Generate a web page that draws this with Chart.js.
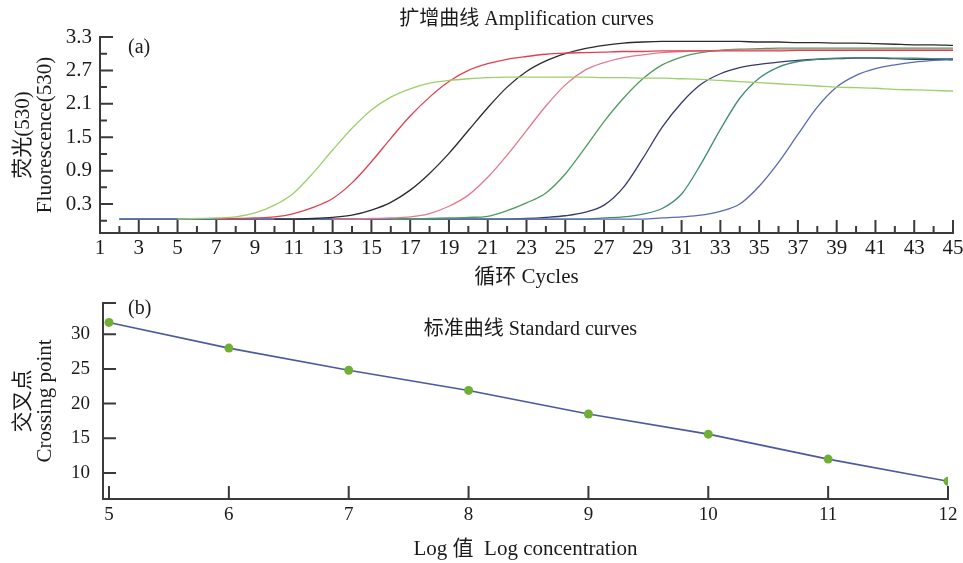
<!DOCTYPE html>
<html>
<head>
<meta charset="utf-8">
<title>Amplification and standard curves</title>
<script src="https://cdn.jsdelivr.net/npm/chart.js@4.4.1/dist/chart.umd.min.js"></script>
<style>
  html, body { margin: 0; padding: 0; background: #ffffff; }
  #panelA { position: absolute; left: 0; top: 0; width: 963px; height: 290px; }
  #panelB { position: absolute; left: 0; top: 290px; width: 963px; height: 273px; }
</style>
</head>
<body>
<div id="panelA"><canvas id="ampChart"></canvas></div>
<div id="panelB"><canvas id="stdChart"></canvas></div>
<script>
// ---- panel (a): amplification curves, one value per cycle ----
const cycles = [2, 3, 4, 5, 6, 7, 8, 9, 10, 11, 12, 13, 14, 15, 16, 17, 18, 19, 20, 21, 22, 23,
  24, 25, 26, 27, 28, 29, 30, 31, 32, 33, 34, 35, 36, 37, 38, 39, 40, 41, 42, 43, 44, 45];

const curveLightGreen = [null, null, null, 0.03, 0.04, 0.05, 0.07, 0.14, 0.28, 0.5, 0.86, 1.27,
  1.66, 1.99, 2.22, 2.37, 2.47, 2.52, 2.55, 2.57, 2.58, 2.58, 2.58, 2.58, 2.58, 2.57, 2.57, 2.56,
  2.56, 2.55, 2.54, 2.52, 2.5, 2.48, 2.46, 2.44, 2.42, 2.4, 2.39, 2.38, 2.36, 2.35, 2.34, 2.33];
const curveRed = [null, null, null, null, null, 0.03, 0.04, 0.05, 0.07, 0.13, 0.24, 0.4, 0.68,
  1.06, 1.48, 1.88, 2.22, 2.5, 2.7, 2.82, 2.9, 2.95, 2.99, 3.01, 3.02, 3.03, 3.04, 3.04, 3.05,
  3.05, 3.05, 3.05, 3.05, 3.05, 3.05, 3.06, 3.06, 3.06, 3.06, 3.06, 3.06, 3.06, 3.06, 3.06];
const curveBlack = [null, null, null, null, null, null, null, null, 0.03, 0.03, 0.04, 0.06, 0.1,
  0.19, 0.33, 0.55, 0.85, 1.21, 1.62, 2.03, 2.4, 2.68, 2.87, 3.0, 3.09, 3.15, 3.19, 3.21, 3.22,
  3.22, 3.22, 3.22, 3.22, 3.21, 3.21, 3.2, 3.2, 3.19, 3.19, 3.18, 3.17, 3.16, 3.16, 3.15];
const curvePink = [null, null, null, null, null, null, null, null, null, null, null, 0.03, 0.03,
  0.04, 0.05, 0.07, 0.13, 0.26, 0.46, 0.78, 1.18, 1.62, 2.06, 2.44, 2.7, 2.84, 2.93, 2.98, 3.02,
  3.04, 3.05, 3.06, 3.07, 3.07, 3.07, 3.07, 3.07, 3.07, 3.07, 3.07, 3.07, 3.07, 3.07, 3.07];
const curveGreen = [null, null, null, null, null, null, null, null, null, null, null, null, null,
  null, 0.03, 0.03, 0.04, 0.05, 0.06, 0.08, 0.18, 0.32, 0.5, 0.84, 1.3, 1.78, 2.2, 2.55, 2.8,
  2.94, 3.02, 3.06, 3.08, 3.09, 3.1, 3.1, 3.1, 3.1, 3.1, 3.1, 3.1, 3.1, 3.1, 3.1];
const curveNavy = [0.03, 0.03, 0.03, 0.03, 0.03, 0.03, 0.03, 0.03, 0.03, 0.03, 0.03, 0.03, 0.03,
  0.03, 0.03, 0.03, 0.03, 0.03, 0.03, 0.03, 0.03, 0.04, 0.06, 0.09, 0.15, 0.28, 0.6, 1.12, 1.68,
  2.12, 2.45, 2.64, 2.75, 2.81, 2.85, 2.88, 2.9, 2.91, 2.92, 2.92, 2.91, 2.9, 2.9, 2.89];
const curveTeal = [0.03, 0.03, 0.03, 0.03, 0.03, 0.03, 0.03, 0.03, 0.03, 0.03, 0.03, 0.03, 0.03,
  0.03, 0.03, 0.03, 0.03, 0.03, 0.03, 0.03, 0.03, 0.03, 0.03, 0.03, 0.03, 0.05, 0.07, 0.12, 0.22,
  0.48, 1.02, 1.64, 2.2, 2.56, 2.76, 2.86, 2.9, 2.92, 2.93, 2.93, 2.92, 2.92, 2.91, 2.91];
const curveBlue = [0.03, 0.03, 0.03, 0.03, 0.03, 0.03, 0.03, 0.03, 0.03, 0.03, 0.03, 0.03, 0.03,
  0.03, 0.03, 0.03, 0.03, 0.03, 0.03, 0.03, 0.03, 0.03, 0.03, 0.03, 0.03, 0.03, 0.03, 0.03, 0.05,
  0.07, 0.1, 0.17, 0.3, 0.62, 1.05, 1.55, 2.04, 2.4, 2.61, 2.73, 2.8, 2.85, 2.88, 2.9];

// axis labels and tick marks for panel (a):
const cycleLabels = [1, 3, 5, 7, 9, 11, 13, 15, 17, 19, 21, 23, 25, 27, 29, 31, 33, 35, 37, 39, 41, 43, 45];
const cycleMinor = [2, 4, 6, 8, 10, 12, 14, 16, 18, 20, 22, 24, 26, 28, 30, 32, 34, 36, 38, 40, 42, 44];
const fluorLabels = [0.3, 0.9, 1.5, 2.1, 2.7, 3.3];
const fluorMinor = [0, 0.6, 1.2, 1.8, 2.4, 3.0];

// ---- panel (b): standard curve ----
const logConc = [5, 6, 7, 8, 9, 10, 11, 12];
const crossingPoint = [31.7, 28.0, 24.8, 21.9, 18.5, 15.6, 12.0, 8.8];
const crossLabels = [10, 15, 20, 25, 30];
const crossMinor = [34.5];

const serif = "'Liberation Serif', 'Noto Sans CJK SC', serif";
const ink = '#1a1a1a';
Chart.defaults.font.family = serif;
Chart.defaults.color = ink;

// draws tick marks pointing into the plot, the way the original figure does:
const inwardTicks = {
  id: 'inwardTicks',
  afterDatasetsDraw(chart, args, opts) {
    const { ctx, chartArea } = chart;
    const xs = chart.scales.x;
    const ys = chart.scales.y;
    ctx.save();
    ctx.strokeStyle = '#3a3a3a';
    ctx.lineWidth = 2;
    ctx.beginPath();
    const xSets = [[opts.xMajor, opts.majorLen], [opts.xMinor || [], opts.minorLen]];
    for (const [vals, len] of xSets) {
      for (const v of vals) {
        const px = xs.getPixelForValue(v);
        ctx.moveTo(px, chartArea.bottom);
        ctx.lineTo(px, chartArea.bottom - len);
      }
    }
    const ySets = [[opts.yMajor, opts.majorLen], [opts.yMinor || [], opts.minorLen]];
    for (const [vals, len] of ySets) {
      for (const v of vals) {
        const py = ys.getPixelForValue(v);
        ctx.moveTo(chartArea.left, py);
        ctx.lineTo(chartArea.left + len, py);
      }
    }
    ctx.stroke();
    ctx.restore();
  }
};

// small texts placed inside the plot area ("(a)", panel title of (b)):
const panelText = {
  id: 'panelText',
  afterDraw(chart, args, opts) {
    const { ctx, chartArea } = chart;
    ctx.save();
    ctx.fillStyle = ink;
    ctx.textBaseline = 'middle';
    for (const item of opts.items) {
      ctx.font = item.size + 'px ' + serif;
      ctx.textAlign = item.align;
      const x = item.align === 'center' ? (chartArea.left + chartArea.right) / 2 + item.dx : chartArea.left + item.dx;
      ctx.fillText(item.text, x, chartArea.top + item.dy);
    }
    ctx.restore();
  }
};

// keep the axes from reserving extra room for half a label:
function noEdgePadding(scale) {
  scale.paddingTop = 0;
  scale.paddingBottom = 0;
  scale.paddingLeft = 0;
  scale.paddingRight = 0;
}

function curve(values, color) {
  return {
    data: cycles.map((c, i) => ({ x: c, y: values[i] })),
    borderColor: color,
    borderWidth: 1.3,
    pointRadius: 0,
    cubicInterpolationMode: 'monotone',
    fill: false
  };
}

// panel (a)
new Chart(document.getElementById('ampChart'), {
  type: 'line',
  data: {
    datasets: [
      curve(curveLightGreen, '#9fcf6a'),
      curve(curveRed, '#e2404e'),
      curve(curveBlack, '#2b2b2b'),
      curve(curvePink, '#e57890'),
      curve(curveGreen, '#4f9a5c'),
      curve(curveBlue, '#5a6ab0'),
      curve(curveTeal, '#3f8c72'),
      curve(curveNavy, '#36386e')
    ]
  },
  options: {
    responsive: true,
    maintainAspectRatio: false,
    animation: false,
    devicePixelRatio: 1,
    layout: { padding: { left: 0, right: 10, top: 0, bottom: 0 } },
    plugins: {
      legend: { display: false },
      tooltip: { enabled: false },
      title: {
        display: true,
        fullSize: false,
        text: '扩增曲线 Amplification curves',
        color: ink,
        font: { size: 20, weight: 'normal' },
        padding: { top: 8, bottom: 5 }
      },
      inwardTicks: {
        xMajor: cycleLabels, xMinor: cycleMinor,
        yMajor: fluorLabels, yMinor: fluorMinor,
        majorLen: 13, minorLen: 7
      },
      panelText: { items: [{ text: '(a)', size: 20, align: 'left', dx: 28, dy: 11 }] }
    },
    scales: {
      x: {
        type: 'linear',
        min: 1,
        max: 45,
        afterBuildTicks: (scale) => { scale.ticks = cycleLabels.map(v => ({ value: v })); },
        afterFit: (scale) => { scale.height = 57; noEdgePadding(scale); },
        grid: { display: false, drawTicks: false },
        border: { display: true, color: '#3a3a3a', width: 2 },
        ticks: { autoSkip: false, maxRotation: 0, padding: 3, font: { size: 21 }, color: ink },
        title: { display: true, text: '循环 Cycles', font: { size: 21 }, color: ink, padding: { top: 0, bottom: 0 } }
      },
      y: {
        min: -0.22,
        max: 3.3,
        afterBuildTicks: (scale) => { scale.ticks = fluorLabels.map(v => ({ value: v })); },
        afterFit: (scale) => { scale.width = 100; noEdgePadding(scale); },
        grid: { display: false, drawTicks: false },
        border: { display: true, color: '#3a3a3a', width: 2 },
        ticks: { padding: 8, font: { size: 21 }, color: ink, callback: (v) => v.toFixed(1) },
        title: {
          display: true,
          text: ['荧光(530)', 'Fluorescence(530)'],
          font: { size: 21, lineHeight: 1.05 },
          color: ink,
          padding: { top: 12, bottom: 0 }
        }
      }
    }
  },
  plugins: [inwardTicks, panelText]
});

// panel (b)
new Chart(document.getElementById('stdChart'), {
  type: 'line',
  data: {
    datasets: [{
      data: logConc.map((v, i) => ({ x: v, y: crossingPoint[i] })),
      borderColor: '#4b5a9c',
      borderWidth: 1.6,
      pointRadius: 4.5,
      pointBackgroundColor: '#6fb034',
      pointBorderWidth: 0,
      tension: 0,
      fill: false
    }]
  },
  options: {
    responsive: true,
    maintainAspectRatio: false,
    animation: false,
    devicePixelRatio: 1,
    layout: { padding: { left: 0, right: 15, top: 13, bottom: 0 } },
    plugins: {
      legend: { display: false },
      tooltip: { enabled: false },
      inwardTicks: {
        xMajor: logConc,
        yMajor: crossLabels, yMinor: crossMinor,
        majorLen: 13, minorLen: 13
      },
      panelText: {
        items: [
          { text: '(b)', size: 20, align: 'left', dx: 25, dy: 6 },
          { text: '标准曲线 Standard curves', size: 20, align: 'center', dx: 5, dy: 27 }
        ]
      }
    },
    scales: {
      x: {
        type: 'linear',
        min: 4.95,
        max: 12,
        afterBuildTicks: (scale) => { scale.ticks = logConc.map(v => ({ value: v })); },
        afterFit: (scale) => { scale.height = 64; noEdgePadding(scale); },
        grid: { display: false, drawTicks: false },
        border: { display: true, color: '#3a3a3a', width: 2 },
        ticks: { autoSkip: false, maxRotation: 0, padding: 5, font: { size: 19 }, color: ink },
        title: { display: true, text: 'Log 值  Log concentration', font: { size: 21 }, color: ink, padding: { top: 0, bottom: 1 } }
      },
      y: {
        min: 6.25,
        max: 34.5,
        afterBuildTicks: (scale) => { scale.ticks = crossLabels.map(v => ({ value: v })); },
        afterFit: (scale) => { scale.width = 103; noEdgePadding(scale); },
        grid: { display: false, drawTicks: false },
        border: { display: true, color: '#3a3a3a', width: 2 },
        ticks: { padding: 13, font: { size: 19 }, color: ink },
        title: {
          display: true,
          text: ['交叉点', 'Crossing point'],
          font: { size: 21, lineHeight: 1.05 },
          color: ink,
          padding: { top: 12, bottom: 0 }
        }
      }
    }
  },
  plugins: [inwardTicks, panelText]
});
</script>
</body>
</html>
